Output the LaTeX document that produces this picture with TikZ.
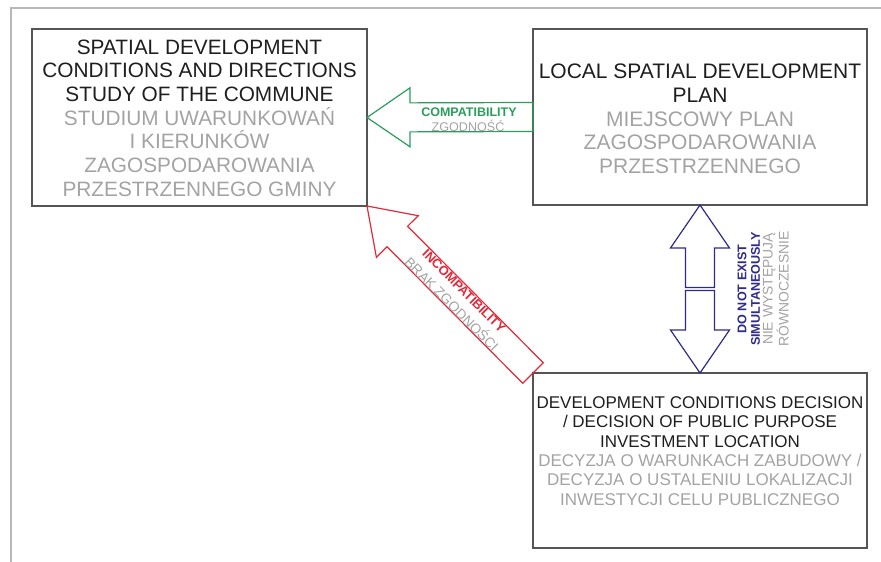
\documentclass[tikz,border=0pt]{standalone}
\usepackage{fontspec}
\setmainfont{Liberation Sans}
\usepackage{xcolor}
\usepackage{tikz}
\usetikzlibrary{positioning,calc}

\definecolor{boxline}{HTML}{555555}
\definecolor{entext}{HTML}{1E1E1E}
\definecolor{pltext}{HTML}{A3A3A3}
\definecolor{framegray}{HTML}{B8B8B8}
\definecolor{goodgreen}{HTML}{2A9D5C}
\definecolor{badred}{HTML}{E02A3A}
\definecolor{exclblue}{HTML}{2E2B8A}

\newcommand{\pltxt}[1]{\textcolor{pltext}{#1}}
% block arrow: style, tail, tip
\newcommand{\blockarrow}[3]{%
  \draw[#1] (#3)
    -- ($(#3)!43pt!(#2)!29.5pt!90:(#2)$)
    -- ($(#3)!43pt!(#2)!14.5pt!90:(#2)$)
    -- ($(#2)!14.5pt!-90:(#3)$)
    -- ($(#2)!14.5pt!90:(#3)$)
    -- ($(#3)!43pt!(#2)!14.5pt!-90:(#2)$)
    -- ($(#3)!43pt!(#2)!29.5pt!-90:(#2)$)
    -- cycle;}

\begin{document}
\begin{tikzpicture}[x=1pt, y=-1pt,
    docbox/.style={
        rectangle,
        draw=boxline,
        line width=1.4pt,
        inner sep=0pt, outer sep=0pt,
        minimum width=334pt, minimum height=176pt
    },
    doctext/.style={
        align=center,
        inner sep=0pt,
        text=entext,
        font=\fontsize{21}{23.7}\selectfont
    },
    goodarrow/.style={draw=goodgreen, line width=1.2pt, line join=miter},
    badarrow/.style={draw=badred, line width=1.2pt, line join=miter},
    exclarrow/.style={draw=exclblue, line width=1.2pt, line join=miter},
    goodtag/.style={inner sep=0pt, text=goodgreen, font=\bfseries\fontsize{12.5}{14}\selectfont},
    badtag/.style={inner sep=0pt, text=badred, font=\bfseries\fontsize{12.9}{14}\selectfont},
    excltag/.style={inner sep=0pt, align=center, text=exclblue, font=\bfseries\fontsize{12.6}{13.5}\selectfont},
    pltag/.style={inner sep=0pt, align=center, text=pltext, font=\fontsize{13.9}{13.5}\selectfont},
    frameline/.style={draw=framegray, line width=1.6pt}
]

\useasboundingbox (0,0) rectangle (881,562);
\draw[frameline] (881,8) -- (11,8) -- (11,562);

\node[docbox, minimum width=335pt, minimum height=177pt] (study) at (199.5,117.5) {};
\node[doctext, font=\fontsize{20.8}{23.7}\selectfont] (studytext) at (199.5,118) {SPATIAL DEVELOPMENT\\CONDITIONS AND DIRECTIONS\\STUDY OF THE COMMUNE\\\pltxt{STUDIUM UWARUNKOWAŃ}\\\pltxt{I KIERUNKÓW}\\\pltxt{ZAGOSPODAROWANIA}\\\pltxt{PRZESTRZENNEGO GMINY}};

\node[docbox] (plan) at (700,117) {};
\node[doctext] (plantext) at (700,119) {LOCAL SPATIAL DEVELOPMENT\\PLAN\\\pltxt{MIEJSCOWY PLAN}\\\pltxt{ZAGOSPODAROWANIA}\\\pltxt{PRZESTRZENNEGO}};

\node[docbox, minimum height=175pt] (decision) at (700,460.5) {};
\node[doctext, font=\fontsize{17}{19.3}\selectfont] (decisiontext) at (700,451) {DEVELOPMENT CONDITIONS DECISION\\/ DECISION OF PUBLIC PURPOSE\\INVESTMENT LOCATION\\\pltxt{DECYZJA O WARUNKACH ZABUDOWY /}\\\pltxt{DECYZJA O USTALENIU LOKALIZACJI}\\\pltxt{INWESTYCJI CELU PUBLICZNEGO}};

% compatibility
\blockarrow{goodarrow}{plan.west}{study.east}
\node[goodtag, anchor=base] (compatEn) at (469,116.7) {COMPATIBILITY};
\node[pltag, anchor=base, font=\fontsize{12.6}{14}\selectfont] (compatPl) at (468,131.5) {ZGODNOŚĆ};

% incompatibility
\blockarrow{badarrow}{decision.north west}{study.south east}
\node[badtag, rotate=-45] (incompEn) at (464,291) {INCOMPATIBILITY};
\node[pltag, rotate=-45] (incompPl) at (452.5,303.5) {BRAK ZGODNOŚCI};

% do not exist simultaneously
\coordinate (gapmid) at ($(plan.south)!0.5!(decision.north)$);
\coordinate (uptail) at ($(gapmid)+(0,-1.5)$);
\coordinate (downtail) at ($(gapmid)+(0,1.5)$);
\blockarrow{exclarrow}{uptail}{plan.south}
\blockarrow{exclarrow}{downtail}{decision.north}
\node[excltag, rotate=90] (exclEn) at (748.75,289) {DO NOT EXIST\\SIMULTANEOUSLY};
\node[pltag, rotate=90] (exclPl) at (775.75,289) {NIE WYSTĘPUJĄ\\RÓWNOCZESNIE};

\end{tikzpicture}
\end{document}
